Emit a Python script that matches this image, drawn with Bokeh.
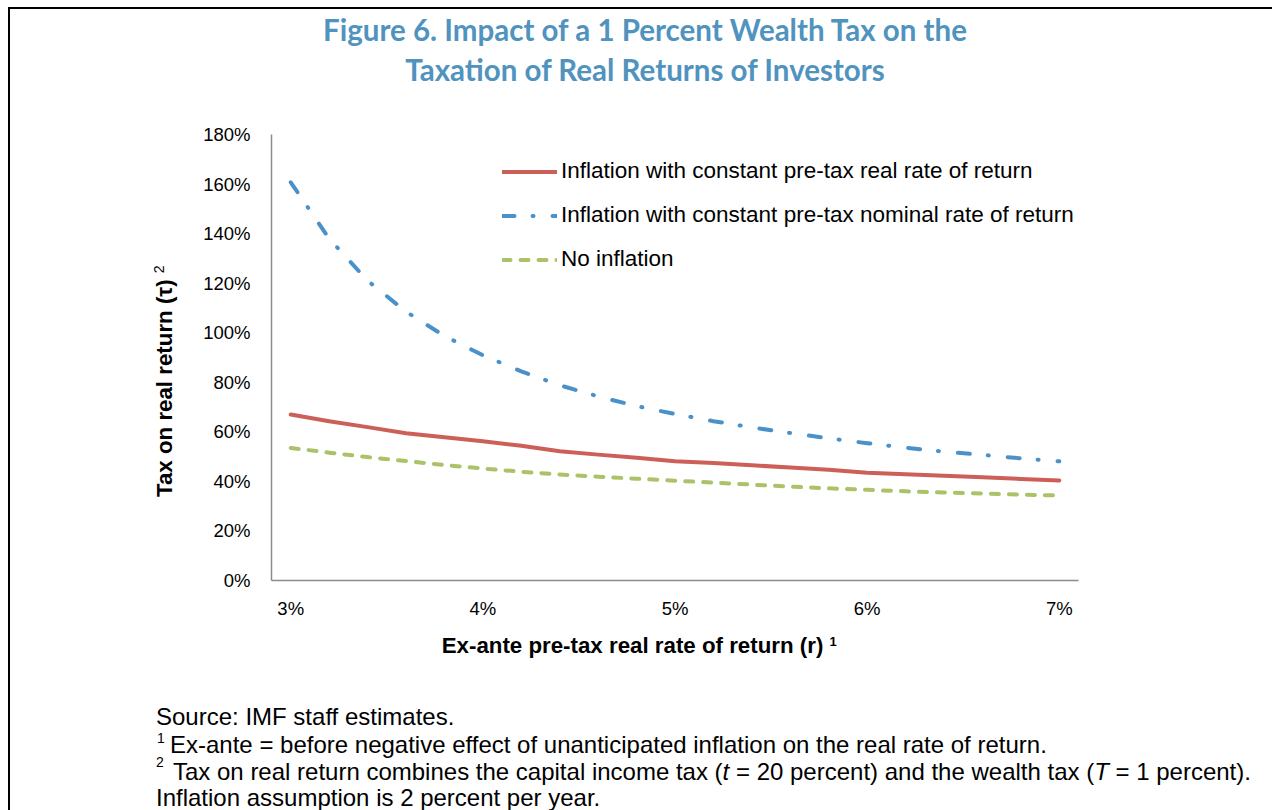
from bokeh.plotting import figure
from bokeh.models import Range1d, FixedTicker, Legend, LegendItem, Div
from bokeh.layouts import column, row
from bokeh.embed import file_html
from bokeh.resources import INLINE

# ---------------- data ----------------
x_vals = [3.0, 3.2, 3.4, 3.6, 3.8, 4.0, 4.2, 4.4, 4.6, 4.8, 5.0,
          5.2, 5.4, 5.6, 5.8, 6.0, 6.2, 6.4, 6.6, 6.8, 7.0]
real_const = [67.0, 64.3, 61.9, 59.4, 57.8, 56.2, 54.4, 52.2, 50.8, 49.5, 48.1,
              47.4, 46.5, 45.6, 44.7, 43.5, 42.9, 42.3, 41.7, 41.0, 40.4]
nominal_const = [160.7, 138.0, 121.0, 108.5, 98.7, 90.9, 84.4, 78.8, 74.3, 70.4, 67.2,
                 64.3, 61.8, 59.5, 57.4, 55.4, 53.6, 52.0, 50.7, 49.3, 48.1]
no_inflation = [53.5, 51.6, 49.8, 48.2, 46.6, 45.2, 43.9, 42.8, 41.9, 41.1, 40.3,
                39.5, 38.7, 37.9, 37.2, 36.6, 36.0, 35.5, 35.1, 34.7, 34.3]
series_names = ["Inflation with constant pre-tax real rate of return",
                "Inflation with constant pre-tax nominal rate of return",
                "No inflation"]
x_tick_vals = [3, 4, 5, 6, 7]
x_tick_labels = ["3%", "4%", "5%", "6%", "7%"]
y_tick_vals = [0, 20, 40, 60, 80, 100, 120, 140, 160, 180]
y_tick_labels = ["0%", "20%", "40%", "60%", "80%", "100%", "120%", "140%", "160%", "180%"]
title_lines = ["Figure 6. Impact of a 1 Percent Wealth Tax on the",
               "Taxation of Real Returns of Investors"]
x_title = "Ex-ante pre-tax real rate of return (r)"
x_title_sup = "1"
y_title = "Tax on real return (\u03c4)"
y_title_sup = "2"
note_source = "Source: IMF staff estimates."
note1 = "Ex-ante = before negative effect of unanticipated inflation on the real rate of return."
note2_html = ("Tax on real return combines the capital income tax (<i>t</i> = 20 percent) "
              "and the wealth tax (<i>T</i> = 1 percent).")
note3 = "Inflation assumption is 2 percent per year."

# ---------------- styling / layout ----------------
RED, BLUE, GREEN = "#CD5F59", "#4A91C9", "#ABC268"
TITLE_C = "#4F93BE"
AXIS_C = "#8C8C8C"
FONT = "Liberation Sans"
CSS_FONT = "'Liberation Sans', Arial, sans-serif"

PAGE_W, PAGE_H = 1272, 810
TOP_H = 110
LEFT_W = 200
FIG_W, FIG_H = PAGE_W - LEFT_W, 520
BOT_H = PAGE_H - TOP_H - FIG_H
MB_L, MB_T, MB_B = 69, 24, 50
FRAME_W = 809
X0, X1, Y0, Y1 = 2.9, 7.1, 0, 180

p = figure(width=FIG_W, height=FIG_H, x_range=Range1d(X0, X1), y_range=Range1d(Y0, Y1),
           output_backend="svg", toolbar_location=None,
           min_border_left=MB_L, min_border_right=FIG_W - MB_L - FRAME_W,
           min_border_top=MB_T, min_border_bottom=MB_B, margin=0)
p.outline_line_color = None
p.background_fill_color = "white"
p.border_fill_color = "white"
p.xgrid.visible = False
p.ygrid.visible = False

for ax in (p.xaxis[0], p.yaxis[0]):
    ax.axis_line_color = AXIS_C
    ax.axis_line_width = 1.5
    ax.major_tick_line_color = None
    ax.minor_tick_line_color = None
    ax.major_tick_out = 0
    ax.major_tick_in = 0
    ax.major_label_text_font = FONT
    ax.major_label_text_font_size = "18.5px"
    ax.major_label_text_color = "black"

p.xaxis.ticker = FixedTicker(ticks=x_tick_vals)
p.xaxis.major_label_overrides = {v: l for v, l in zip(x_tick_vals, x_tick_labels)}
p.xaxis.major_label_standoff = 17
p.yaxis.ticker = FixedTicker(ticks=y_tick_vals)
p.yaxis.major_label_overrides = {v: l for v, l in zip(y_tick_vals, y_tick_labels)}
p.yaxis.major_label_standoff = 21

r1 = p.line(x_vals, real_const, line_color=RED, line_width=4, line_cap="round", line_join="round")
r2 = p.line(x_vals, nominal_const, line_color=BLUE, line_width=4, line_cap="round",
            line_join="round", line_dash="12 18 1 19")
r3 = p.line(x_vals, no_inflation, line_color=GREEN, line_width=4, line_cap="round",
            line_join="round", line_dash="8 10")

legend = Legend(items=[LegendItem(label=series_names[0], renderers=[r1]),
                       LegendItem(label=series_names[1], renderers=[r2]),
                       LegendItem(label=series_names[2], renderers=[r3])],
                location=(231, 308), orientation="vertical",
                label_text_font=FONT, label_text_font_size="22.5px", label_text_color="black",
                glyph_width=55, glyph_height=25, label_height=25, spacing=18,
                label_standoff=4, padding=0, margin=0,
                border_line_color=None, background_fill_alpha=0)
p.add_layout(legend)


# ---------------- surrounding text (HTML, absolutely placed) ----------------
def asc(size, ratio=0.8465):
    # distance from the top of a line box (line-height 1) to the baseline
    return ratio * size


def span(txt, left, top, size, extra=""):
    return (f'<div style="position:absolute;left:{left:.1f}px;top:{top:.1f}px;'
            f'font-size:{size}px;line-height:1;white-space:nowrap;{extra}">{txt}</div>')


def box(inner, w, h):
    return (f'<div style="position:relative;width:{w}px;height:{h}px;overflow:hidden;'
            f'font-family:{CSS_FONT};color:black;margin:0;padding:0">{inner}</div>')


TOPLINE = '<div style="position:absolute;left:8px;top:7px;width:1264px;height:2px;background:#000"></div>'


def leftline(top, h):
    return f'<div style="position:absolute;left:8px;top:{top}px;width:2px;height:{h}px;background:#000"></div>'


# top block: border + title
TS = 29.5
top_inner = TOPLINE + leftline(7, TOP_H)
for txt, base in zip(title_lines, [41, 81]):
    top_inner += (f'<div style="position:absolute;left:20px;width:1250px;top:{base - 0.887 * TS:.1f}px;'
                  f'text-align:center;font-family:Lato, sans-serif;font-weight:bold;'
                  f'font-size:{TS}px;line-height:1;color:{TITLE_C};white-space:nowrap">{txt}</div>')
top_div = Div(text=box(top_inner, PAGE_W, TOP_H), width=PAGE_W, height=TOP_H, margin=0)

# left block: border + rotated y title
AS = 22.3
y_base_x, y_start = 173, 497 - TOP_H
left_inner = leftline(0, FIG_H)
left_inner += (f'<div style="position:absolute;left:{y_base_x - asc(AS):.1f}px;top:{y_start}px;'
               f'transform-origin:0 0;transform:rotate(-90deg);font-weight:bold;'
               f'font-size:{AS}px;line-height:1;white-space:nowrap">{y_title} '
               f'<span style="font-size:14px;font-weight:normal;position:relative;top:-8px">'
               f'{y_title_sup}</span></div>')
left_div = Div(text=box(left_inner, LEFT_W, FIG_H), width=LEFT_W, height=FIG_H, margin=0)

# bottom block: border + x title + notes
B0 = TOP_H + FIG_H
FN, SS = 24, 14
bot_inner = leftline(0, BOT_H)
bot_inner += span(f'{x_title} <span style="font-size:13px;position:relative;top:-7px">{x_title_sup}</span>',
                  441.7, 654 - B0 - asc(AS), AS, "font-weight:bold;")
bot_inner += span(note_source, 156, 725 - B0 - asc(FN), FN)
bot_inner += span("1", 157, 743 - B0 - asc(SS), SS)
bot_inner += span(note1, 170, 753 - B0 - asc(FN), FN)
bot_inner += span("2", 156, 767 - B0 - asc(SS), SS)
bot_inner += span(note2_html, 173, 780 - B0 - asc(FN), FN)
bot_inner += span(note3, 156, 806 - B0 - asc(FN), FN)
bot_div = Div(text=box(bot_inner, PAGE_W, BOT_H), width=PAGE_W, height=BOT_H, margin=0)

layout = column(top_div, row(left_div, p, spacing=0, margin=0), bot_div, spacing=0, margin=0)

open("out.html", "w", encoding="utf-8").write(file_html(layout, INLINE))
